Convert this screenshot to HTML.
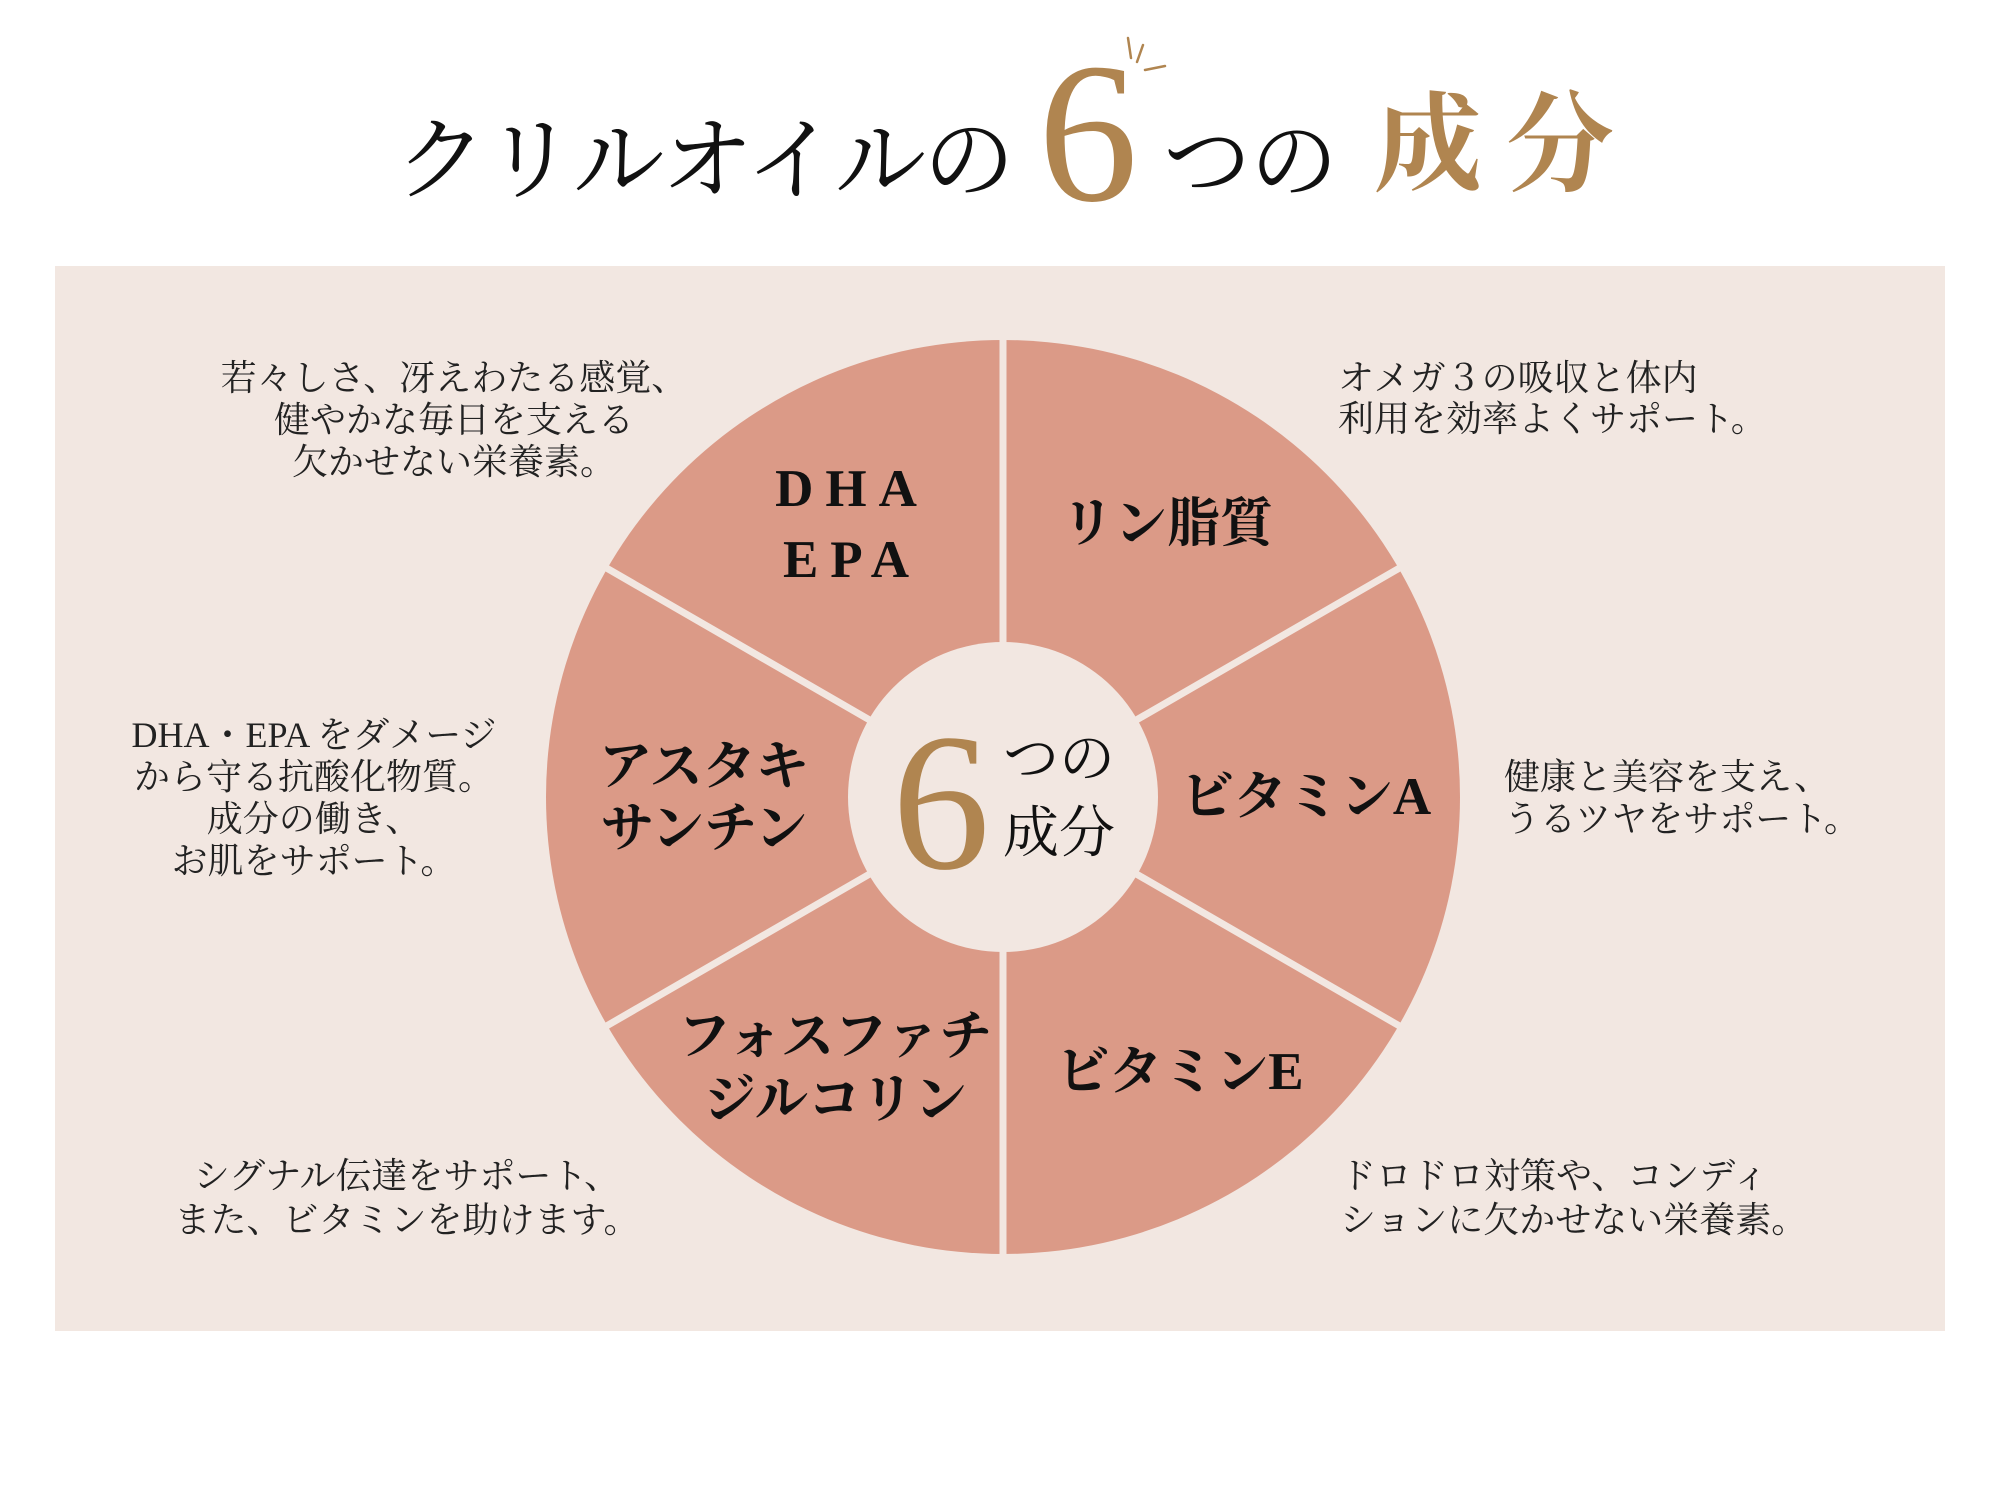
<!DOCTYPE html>
<html><head><meta charset="utf-8"><style>
html,body{margin:0;padding:0;background:#fff;}
svg{display:block}
.s{font-family:"Liberation Serif","Noto Serif CJK SC",serif;}
</style></head><body>
<svg width="2000" height="1500" viewBox="0 0 2000 1500" xmlns="http://www.w3.org/2000/svg">
<rect x="0" y="0" width="2000" height="1500" fill="#ffffff"/>
<g class="s">
<text x="395" y="192" font-size="92" fill="#111" class="s" textLength="620">クリルオイルの</text>
<text x="1088" y="200" font-size="200" fill="#b08550" text-anchor="middle" class="s">6</text>
<text x="1163" y="192" font-size="88" fill="#111" class="s" textLength="175">つの</text>
<text x="1374" y="182" font-size="108" fill="#b08550" font-weight="bold" class="s" textLength="240">成分</text>
</g>
<g stroke="#b08550" stroke-width="2.5" stroke-linecap="round">
<line x1="1128" y1="38" x2="1131" y2="58"/>
<line x1="1143" y1="45" x2="1137" y2="62"/>
<line x1="1165" y1="66" x2="1145" y2="70"/>
</g>
<rect x="55" y="266" width="1890" height="1065" fill="#f2e7e1"/>
<circle cx="1003" cy="797" r="457" fill="#db9a87"/>
<g stroke="#f2e7e1" stroke-width="7">
<line x1="1003" y1="330" x2="1003" y2="1264"/>
<line x1="1003" y1="797" x2="1403" y2="566"/>
<line x1="1003" y1="797" x2="603" y2="566"/>
<line x1="1003" y1="797" x2="1403" y2="1028"/>
<line x1="1003" y1="797" x2="603" y2="1028"/>
</g>
<circle cx="1003" cy="797" r="155" fill="#f2e7e1"/>
<g class="s">
<text x="941" y="868" font-size="196" fill="#b08550" text-anchor="middle" class="s">6</text>
<text x="1003" y="778" font-size="56" fill="#111" class="s">つの</text>
<text x="1003" y="852" font-size="56" fill="#111" class="s">成分</text>
</g>
<g class="s" font-weight="bold" font-size="53" fill="#111" text-anchor="middle">
<text x="852" y="506" class="s" letter-spacing="12">DHA</text>
<text x="852" y="577" class="s" letter-spacing="12">EPA</text>
<text x="1167" y="541" class="s">リン脂質</text>
<text x="704" y="784" class="s">アスタキ</text>
<text x="704" y="846" class="s">サンチン</text>
<text x="1306" y="814" class="s">ビタミンA</text>
<text x="835" y="1054" class="s">フォスファチ</text>
<text x="835" y="1117" class="s">ジルコリン</text>
<text x="1180" y="1089" class="s">ビタミンE</text>
</g>
<g class="s" font-size="36" fill="#222">
<g text-anchor="middle">
<text x="454" y="390" class="s">若々しさ、冴えわたる感覚、</text>
<text x="454" y="432" class="s">健やかな毎日を支える</text>
<text x="454" y="474" class="s">欠かせない栄養素。</text>
<text x="314" y="747" class="s">DHA・EPA をダメージ</text>
<text x="314" y="789" class="s">から守る抗酸化物質。</text>
<text x="314" y="831" class="s">成分の働き、</text>
<text x="314" y="873" class="s">お肌をサポート。</text>
<text x="407" y="1188" class="s">シグナル伝達をサポート、</text>
<text x="407" y="1232" class="s">また、ビタミンを助けます。</text>
</g>
<text x="1338" y="390" class="s">オメガ３の吸収と体内</text>
<text x="1338" y="431" class="s">利用を効率よくサポート。</text>
<text x="1504" y="789" class="s">健康と美容を支え、</text>
<text x="1504" y="831" class="s">うるツヤをサポート。</text>
<text x="1340" y="1188" class="s">ドロドロ対策や、コンディ</text>
<text x="1340" y="1232" class="s">ションに欠かせない栄養素。</text>
</g>
</svg>
</body></html>
